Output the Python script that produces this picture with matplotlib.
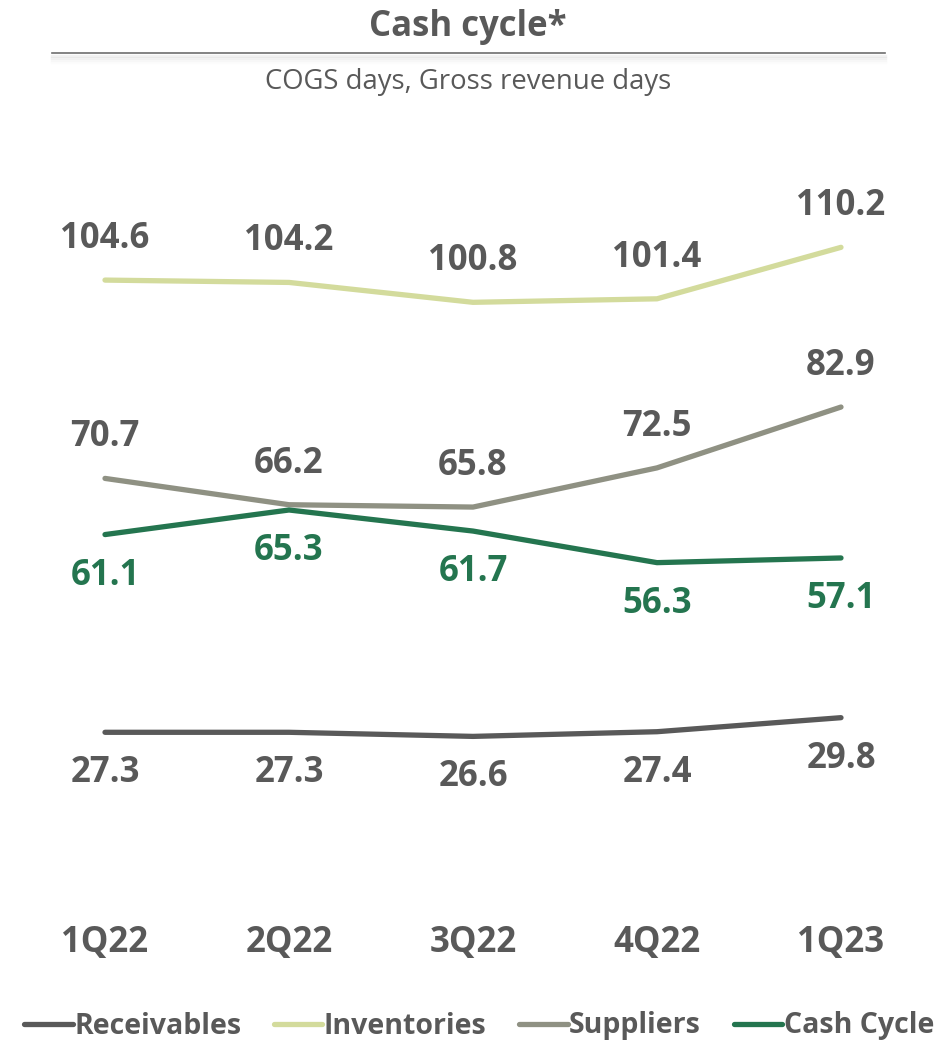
import numpy as np
import matplotlib.pyplot as plt
from matplotlib.lines import Line2D

plt.rcParams['font.family'] = ['Open Sans', 'DejaVu Sans']

quarters = ['1Q22', '2Q22', '3Q22', '4Q22', '1Q23']
receivables = [27.3, 27.3, 26.6, 27.4, 29.8]
inventories = [104.6, 104.2, 100.8, 101.4, 110.2]
suppliers = [70.7, 66.2, 65.8, 72.5, 82.9]
cash_cycle = [61.1, 65.3, 61.7, 56.3, 57.1]

gray_txt = '#595959'
green_txt = '#24754F'

# name, values, line colour, label colour, label above (+1) or below (-1)
series = [
    ('Receivables', receivables, '#595959', gray_txt, -1),
    ('Inventories', inventories, '#D3DB9C', gray_txt, 1),
    ('Suppliers', suppliers, '#8F9183', gray_txt, 1),
    ('Cash Cycle', cash_cycle, '#24754F', green_txt, -1),
]

fig = plt.figure(figsize=(9.36, 10.41), dpi=100)
ax = fig.add_axes([13/936, 1-892/1041, 920/936, 702/1041])
x = np.arange(len(quarters))

for name, vals, col, tcol, side in series:
    ax.plot(x, vals, color=col, lw=3.8, solid_capstyle='round', label=name)
    for xi, v in zip(x, vals):
        ax.annotate(f'{v:.1f}', (xi, v), xytext=(0, 29.5*side), textcoords='offset points',
                    ha='center', va='center', fontsize=25, fontweight='bold', color=tcol)

ax.set_xlim(-0.5, len(quarters)-0.5)
ax.set_ylim(0, 120)
ax.axis('off')

# quarter labels under the plot
for xi, q in zip(x, quarters):
    fig.text((13 + 184*(xi+0.5))/936, 1-943/1041, q, ha='center', va='center',
             fontsize=25, fontweight='bold', color=gray_txt)

# title, rule with soft shadow, subtitle
fig.text(0.5, 1-27/1041, 'Cash cycle*', ha='center', va='center',
         fontsize=25, fontweight='bold', color=gray_txt)
for i, a in enumerate([0.10, 0.07, 0.04, 0.02]):
    fig.add_artist(Line2D([52/936, 885/936], [1-(56+i*2)/1041]*2, color='gray',
                          lw=2.5, alpha=a))
fig.add_artist(Line2D([52/936, 885/936], [1-53/1041]*2, color='#6E6E6E', lw=1.2))
fig.text(0.5, 1-82/1041, 'COGS days, Gross revenue days', ha='center', va='center',
         fontsize=19.8, color=gray_txt)

handles, labels = ax.get_legend_handles_labels()
leg = fig.legend(handles, labels, loc='center', bbox_to_anchor=(0.512, 1-1026/1041),
                 ncol=4, frameon=False, handlelength=1.7, handletextpad=0.05,
                 columnspacing=1.15, borderpad=0.2,
                 prop={'size': 20.5, 'weight': 'bold'})
for t in leg.get_texts():
    t.set_color(gray_txt)

fig.savefig('out.png', dpi=100)
